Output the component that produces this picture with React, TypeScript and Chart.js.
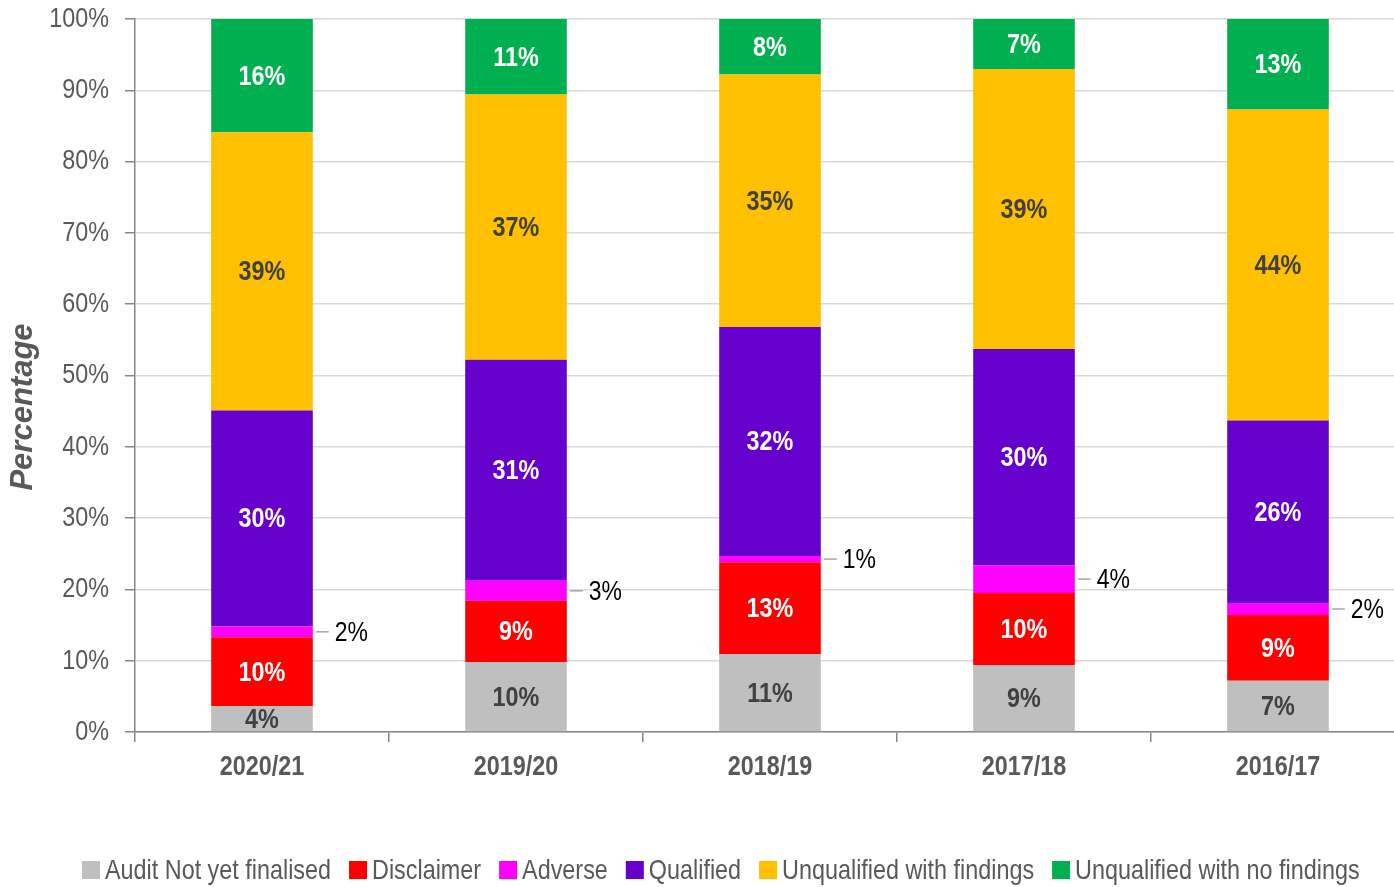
import React, { useEffect, useRef } from "react";
import { Chart, registerables } from "chart.js";

Chart.register(...registerables);

const categories = ["2020/21", "2019/20", "2018/19", "2017/18", "2016/17"];
const seriesNames = [
  "Audit Not yet finalised",
  "Disclaimer",
  "Adverse",
  "Qualified",
  "Unqualified with findings",
  "Unqualified with no findings",
];
const notFinalised = [3.6, 9.8, 10.9, 9.4, 7.2];
const disclaimer = [9.7, 8.6, 12.9, 10.1, 9.2];
const adverse = [1.5, 2.8, 0.9, 3.9, 1.7];
const qualified = [30.3, 31.0, 32.1, 30.3, 25.6];
const unqualifiedFindings = [39.0, 37.2, 35.4, 39.3, 43.6];
const unqualifiedNoFindings = [15.9, 10.6, 7.8, 7.0, 12.7];
const yTicks = [0, 10, 20, 30, 40, 50, 60, 70, 80, 90, 100];

const colors = ["#bfbfbf", "#ff0000", "#ff00ff", "#6600cc", "#ffc000", "#00b050"];
const labelColors = ["#404040", "#ffffff", "#000000", "#ffffff", "#404040", "#ffffff"];
const FONT = "'Liberation Sans', Arial, sans-serif";
const NARROW = 0.82;

const narrowPlugin = {
  id: "narrowText",
  beforeInit(chart: any) {
    const ctx = chart.ctx;
    const orig = ctx.fillText.bind(ctx);
    const origMeasure = ctx.measureText.bind(ctx);
    chart.$origFillText = orig;
    ctx.fillText = (t: string, x: number, y: number) => {
      ctx.save();
      ctx.translate(x, y);
      ctx.scale(NARROW, 1);
      orig(t, 0, 0);
      ctx.restore();
    };
    ctx.measureText = (t: string) => {
      const m = origMeasure(t);
      return {
        width: m.width * NARROW,
        actualBoundingBoxAscent: m.actualBoundingBoxAscent,
        actualBoundingBoxDescent: m.actualBoundingBoxDescent,
        actualBoundingBoxLeft: m.actualBoundingBoxLeft * NARROW,
        actualBoundingBoxRight: m.actualBoundingBoxRight * NARROW,
        fontBoundingBoxAscent: m.fontBoundingBoxAscent,
        fontBoundingBoxDescent: m.fontBoundingBoxDescent,
      };
    };
  },
};

const labelPlugin = {
  id: "segLabels",
  afterDatasetsDraw(chart: any) {
    const ctx = chart.ctx;
    ctx.save();
    chart.data.datasets.forEach((ds: any, di: number) => {
      const meta = chart.getDatasetMeta(di);
      meta.data.forEach((bar: any, i: number) => {
        const v = ds.data[i];
        const txt = Math.round(v) + "%";
        const cy = (bar.y + bar.base) / 2;
        if (di === 2) {
          const right = bar.x + bar.width / 2;
          ctx.strokeStyle = "#a6a6a6";
          ctx.lineWidth = 1.5;
          ctx.beginPath();
          ctx.moveTo(right + 3, cy);
          ctx.lineTo(right + 16, cy);
          ctx.stroke();
          ctx.fillStyle = "#000000";
          ctx.font = `28px ${FONT}`;
          ctx.textAlign = "left";
          ctx.textBaseline = "middle";
          ctx.fillText(txt, right + 22, cy + 1);
        } else {
          ctx.fillStyle = labelColors[di];
          ctx.font = `bold 28.5px ${FONT}`;
          ctx.textAlign = "center";
          ctx.textBaseline = "middle";
          ctx.fillText(txt, bar.x, cy + 1);
        }
      });
    });
    ctx.restore();
  },
};

const legendPlugin = {
  id: "customLegend",
  afterDraw(chart: any) {
    const ctx = chart.ctx;
    ctx.save();
    ctx.font = `28.5px ${FONT}`;
    const box = 18;
    const gapText = 5;
    const gapItem = 18;
    let x = 82;
    const cy = 870;
    seriesNames.forEach((n, i) => {
      ctx.fillStyle = colors[i];
      ctx.fillRect(x, cy - box / 2, box, box);
      x += box + gapText;
      ctx.fillStyle = "#595959";
      ctx.textAlign = "left";
      ctx.textBaseline = "middle";
      ctx.fillText(n, x, cy + 1);
      x += ctx.measureText(n).width + gapItem;
    });
    // y-axis title (regular width)
    ctx.save();
    ctx.translate(23, 407);
    ctx.rotate(-Math.PI / 2);
    ctx.font = `italic bold 31px ${FONT}`;
    ctx.fillStyle = "#595959";
    ctx.textAlign = "center";
    ctx.textBaseline = "middle";
    chart.$origFillText("Percentage", 0, 0);
    ctx.restore();
    ctx.restore();
  },
};

export default function App() {
  const ref = useRef<HTMLCanvasElement | null>(null);
  useEffect(() => {
    document.body.style.margin = "0";
    document.body.style.overflow = "hidden";
    const series = [notFinalised, disclaimer, adverse, qualified, unqualifiedFindings, unqualifiedNoFindings];
    const chart = new Chart(ref.current as HTMLCanvasElement, {
      type: "bar",
      data: {
        labels: categories,
        datasets: series.map((d, i) => ({
          label: seriesNames[i],
          data: d,
          backgroundColor: colors[i],
          borderWidth: 0,
          categoryPercentage: 1,
          barPercentage: 0.4,
        })),
      },
      options: {
        animation: false,
        responsive: false,
        maintainAspectRatio: false,
        layout: { padding: { top: 19, right: 0, bottom: 0, left: 0 } },
        plugins: {
          legend: { display: false },
          tooltip: { enabled: false },
        },
        scales: {
          x: {
            stacked: true,
            grid: {
              display: true,
              drawOnChartArea: false,
              drawTicks: true,
              tickLength: 10,
              color: "#868686",
              lineWidth: 1.5,
              offset: true,
            },
            border: { display: true, color: "#868686", width: 1.5 },
            ticks: {
              color: "#595959",
              font: { family: FONT, size: 28.5, weight: "bold" },
              padding: 8,
              maxRotation: 0,
            },
            afterFit(scale: any) {
              scale.height = 155;
              scale.paddingLeft = 0;
              scale.paddingRight = 0;
            },
          },
          y: {
            stacked: true,
            min: 0,
            max: 100,
            afterBuildTicks(scale: any) {
              scale.ticks = yTicks.map((v) => ({ value: v }));
            },
            grid: {
              color: "#d9d9d9",
              lineWidth: 1.5,
              tickLength: 10,
              tickColor: "#868686",
            },
            border: { display: true, color: "#868686", width: 1.5 },
            ticks: {
              color: "#595959",
              font: { family: FONT, size: 28.5 },
              padding: 16,
              callback: (v: any) => v + "%",
            },
            afterFit(scale: any) {
              scale.width = 135;
              scale.paddingTop = 0;
              scale.paddingBottom = 0;
            },
          },
        },
      },
      plugins: [narrowPlugin, labelPlugin, legendPlugin],
    });
    return () => chart.destroy();
  }, []);
  return (
    <div style={{ width: 1405, height: 887 }}>
      <canvas ref={ref} width={1405} height={887} style={{ display: "block", width: 1405, height: 887 }} />
    </div>
  );
}
